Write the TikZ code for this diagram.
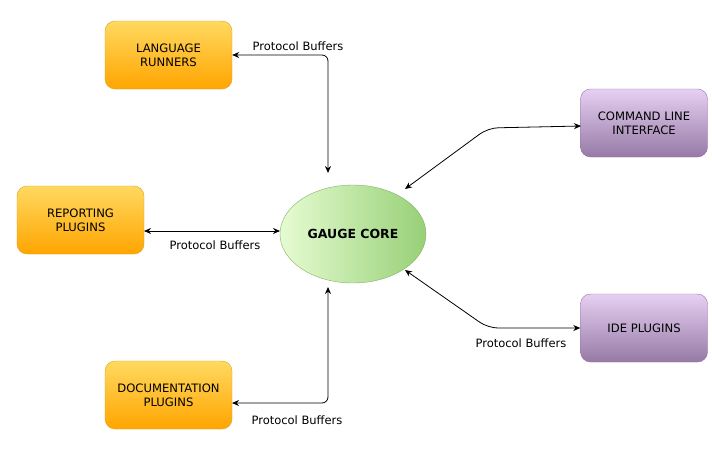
\documentclass[tikz,border=0pt]{standalone}
\usepackage{fontspec}
\setmainfont{DejaVu Sans}
\usetikzlibrary{arrows.meta,shapes.geometric}
\definecolor{orTop}{HTML}{FFD960}
\definecolor{orBot}{HTML}{FFA500}
\definecolor{orLine}{HTML}{DDA520}
\definecolor{puTop}{HTML}{E6D0F2}
\definecolor{puBot}{HTML}{967AA6}
\definecolor{puLine}{HTML}{9673A6}
\definecolor{grL}{HTML}{E6FCD2}
\definecolor{grR}{HTML}{97D077}
\definecolor{grLine}{HTML}{82B366}
\tikzset{
  box/.style={rounded corners=10pt, minimum width=127pt, minimum height=68pt,
    align=center, font=\fontsize{11.6}{14}\selectfont, inner sep=2pt},
  orbox/.style={box, draw=orLine, top color=orTop, bottom color=orBot},
  pubox/.style={box, draw=puLine, top color=puTop, bottom color=puBot},
  corenode/.style={ellipse, draw=grLine, left color=grL, right color=grR,
    minimum width=146pt, minimum height=98pt, inner sep=0pt,
    font=\fontsize{12.5}{14}\selectfont\bfseries},
  conn/.style={line width=0.8pt, {Stealth[length=7pt,width=6pt]}-{Stealth[length=7pt,width=6pt]}},
  lbl/.style={font=\fontsize{11.5}{13}\selectfont, inner sep=1pt}
}
\begin{document}
\begin{tikzpicture}[x=1pt,y=-1pt]
\useasboundingbox (0,0) rectangle (712,450);
\fill[white] (0,0) rectangle (712,450);
% nodes
\node[orbox] (lr) at (168.5,55) {LANGUAGE\\RUNNERS};
\node[orbox] (rp) at (80.5,220) {REPORTING\\PLUGINS};
\node[orbox] (dp) at (168.5,395) {DOCUMENTATION\\PLUGINS};
\node[pubox] (cli) at (644,123) {COMMAND LINE\\INTERFACE};
\node[pubox] (ide) at (644,328) {IDE PLUGINS};
\node[corenode] (core) at (353,234) {GAUGE CORE};
% connector end points
\coordinate (ctop) at (328,173);
\coordinate (cbot) at (328,287);
\coordinate (rpA) at (144,231);
\coordinate (cW) at (280,231);
\coordinate (dpA) at (232,403);
\coordinate (cliA) at (581,126);
\coordinate (cliB) at (488,128);
\coordinate (cNE) at (405,189);
\coordinate (ideB) at (488,328);
\coordinate (cSE) at (405,270);
% connectors
\draw[conn, rounded corners=6pt] (lr.east) -| (ctop);
\draw[conn] (rpA) -- (cW);
\draw[conn, rounded corners=6pt] (dpA) -| (cbot);
\draw[conn, rounded corners=10pt] (cliA) -- (cliB) -- (cNE);
\draw[conn, rounded corners=10pt] (ide.west) -- (ideB) -- (cSE);
% labels
\node[lbl] (l1) at (298,46) {Protocol Buffers};
\node[lbl] (l2) at (215,245) {Protocol Buffers};
\node[lbl] (l3) at (297,420) {Protocol Buffers};
\node[lbl] (l4) at (521,343) {Protocol Buffers};
\end{tikzpicture}
\end{document}
